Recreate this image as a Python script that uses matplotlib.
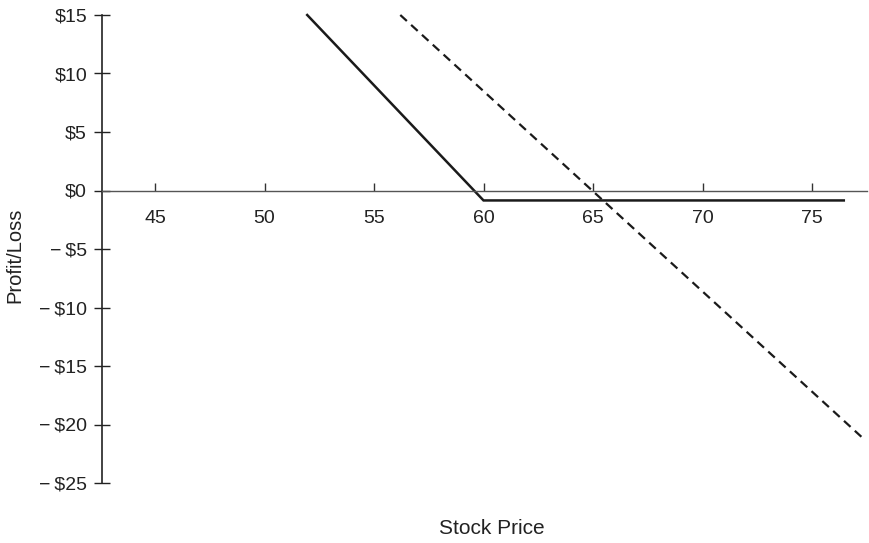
import matplotlib
matplotlib.use("Agg")
import matplotlib.pyplot as plt

# Payoff diagram data (stock price vs profit/loss)
put_x = [51.95, 60.0, 76.45]
put_y = [15.0, -0.85, -0.85]
stock_x = [56.2, 77.4]
stock_y = [15.0, -21.3]

x_ticks = [45, 50, 55, 60, 65, 70, 75]
y_ticks = [15, 10, 5, 0, -5, -10, -15, -20, -25]
y_labels = ["$15", "$10", "$5", "$0", "\u2212\u2009$5", "\u2212\u2009$10",
            "\u2212\u2009$15", "\u2212\u2009$20", "\u2212\u2009$25"]

plt.rcParams["font.family"] = ["Liberation Sans", "DejaVu Sans"]
text_color = "#222222"

W, H = 870, 543
fig = plt.figure(figsize=(W / 100, H / 100), dpi=100)
ax = fig.add_axes([102 / W, 1 - 483 / H, (867 - 102) / W, (483 - 15) / H])

ax.plot(put_x, put_y, color="#1a1a1a", linewidth=1.8, solid_joinstyle="miter", clip_on=False)
ax.plot(stock_x, stock_y, color="#1a1a1a", linewidth=1.6, dashes=(4, 2.6), clip_on=False)

ax.set_xlim(42.58, 77.51)
ax.set_ylim(-25, 15)

# axes styling: left spine black, x axis through zero in grey
for side in ["top", "right"]:
    ax.spines[side].set_visible(False)
ax.spines["left"].set_color("#222222")
ax.spines["left"].set_linewidth(1.2)
ax.spines["bottom"].set_position(("data", 0))
ax.spines["bottom"].set_color("#555555")
ax.spines["bottom"].set_linewidth(1.0)

ax.set_xticks(x_ticks)
ax.set_xticklabels([str(t) for t in x_ticks])
ax.set_yticks(y_ticks)
ax.set_yticklabels(y_labels)

ax.tick_params(axis="x", direction="in", length=5.8, width=1.0, color="#333333",
               pad=14, labelsize=14, labelcolor=text_color)
ax.tick_params(axis="y", direction="inout", length=11.5, width=1.0, color="#222222",
               pad=5, labelsize=14, labelcolor=text_color)

fig.text(15 / W, 1 - 255 / H, "Profit/Loss", rotation=90, ha="center", va="center",
         fontsize=14.5, color=text_color)
fig.text(492 / W, 1 - 529 / H, "Stock Price", ha="center", va="center",
         fontsize=15, color=text_color)

fig.savefig("out.png", dpi=100)
